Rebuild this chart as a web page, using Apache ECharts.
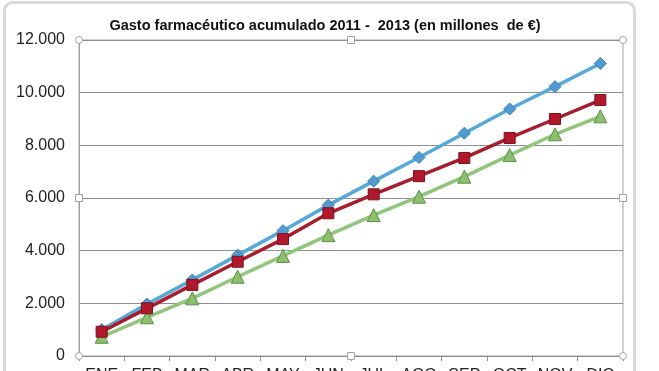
<!DOCTYPE html>
<html>
<head>
<meta charset="utf-8">
<script src="https://cdn.jsdelivr.net/npm/echarts@6/dist/echarts.min.js"></script>
<style>
html,body{margin:0;padding:0;background:#fff;}
#c{width:659px;height:371px;}
</style>
</head>
<body>
<div id="c"></div>
<script>
const titleText = 'Gasto farmacéutico acumulado 2011 -  2013 (en millones  de €)';
const months = ['ENE','FEB','MAR','ABR','MAY','JUN','JUL','AGO','SEP','OCT','NOV','DIC'];
const serie2011 = [1000, 1970, 2890, 3830, 4760, 5730, 6640, 7540, 8460, 9380, 10230, 11110];
const serie2012 = [920, 1810, 2700, 3580, 4440, 5420, 6140, 6830, 7520, 8280, 9000, 9720];
const serie2013 = [730, 1470, 2190, 3010, 3800, 4590, 5350, 6050, 6810, 7630, 8420, 9100];
const yTicks = [0, 2000, 4000, 6000, 8000, 10000, 12000];

const chart = echarts.init(document.getElementById('c'), null, {renderer:'canvas'});
const fmt = v => String(v).replace(/\B(?=(\d{3})+(?!\d))/g, '.');

const handleStyle = {fill:'#fff', stroke:'#9aa6b0', lineWidth:1};
function circ(x,y){return {type:'circle', shape:{cx:x, cy:y, r:3.5}, style:handleStyle, z:100};}
function sq(x,y){return {type:'rect', shape:{x:x-3.5, y:y-3.5, width:7, height:7}, style:handleStyle, z:100};}

chart.setOption({
  animation:false,
  backgroundColor:'#fff',
  title:{
    text:titleText, left:320, top:13, textAlign:'center',
    textStyle:{fontFamily:'Liberation Sans, Arial', fontWeight:'bold', fontSize:14.5, color:'#111'}
  },
  grid:{left:79, right:36, top:40, bottom:15, show:true, borderColor:'#a0a0a0', borderWidth:1,
        containLabel:false, outerBoundsMode:'none'},
  xAxis:{
    type:'category', data:months, boundaryGap:true,
    axisLine:{lineStyle:{color:'#8c8c8c', width:1}},
    axisTick:{show:true, length:5, interval:0, lineStyle:{color:'#8c8c8c'}},
    axisLabel:{fontFamily:'Liberation Sans, Arial', fontSize:16, color:'#222', margin:12, interval:0, hideOverlap:false}
  },
  yAxis:{
    type:'value', min:0, max:12000, interval:2000,
    axisLine:{show:true, lineStyle:{color:'#a0a0a0'}},
    axisTick:{show:false},
    splitLine:{lineStyle:{color:'#8f8f8f', width:1}},
    axisLabel:{fontFamily:'Liberation Sans, Arial', fontSize:16, color:'#222', margin:14,
      formatter:v => yTicks.includes(v) ? fmt(v) : ''}
  },
  series:[
    {name:'2011', type:'line', data:serie2011, symbol:'diamond', symbolSize:12,
     lineStyle:{color:'#55a8d8', width:3.5}, itemStyle:{color:'#4f9bd2', borderColor:'#3a7fb5', borderWidth:1}, z:2},
    {name:'2013', type:'line', data:serie2013, symbol:'triangle', symbolSize:13,
     lineStyle:{color:'#90c67c', width:3.5}, itemStyle:{color:'#8dbf6e', borderColor:'#5e8f48', borderWidth:1}, z:3},
    {name:'2012', type:'line', data:serie2012, symbol:'rect', symbolSize:11,
     lineStyle:{color:'#a81d2d', width:3.5}, itemStyle:{color:'#b0192b', borderColor:'#7e1020', borderWidth:1}, z:4}
  ],
  graphic:[
    {type:'rect', shape:{x:4.5, y:2.5, width:630, height:420, r:8}, style:{fill:'none', stroke:'#dadada', lineWidth:3}, z:-1},
    circ(79,40), circ(623,40), circ(79,356), circ(623,356),
    sq(351,40), sq(351,356), sq(79,198), sq(623,198)
  ]
});
</script>
</body>
</html>
